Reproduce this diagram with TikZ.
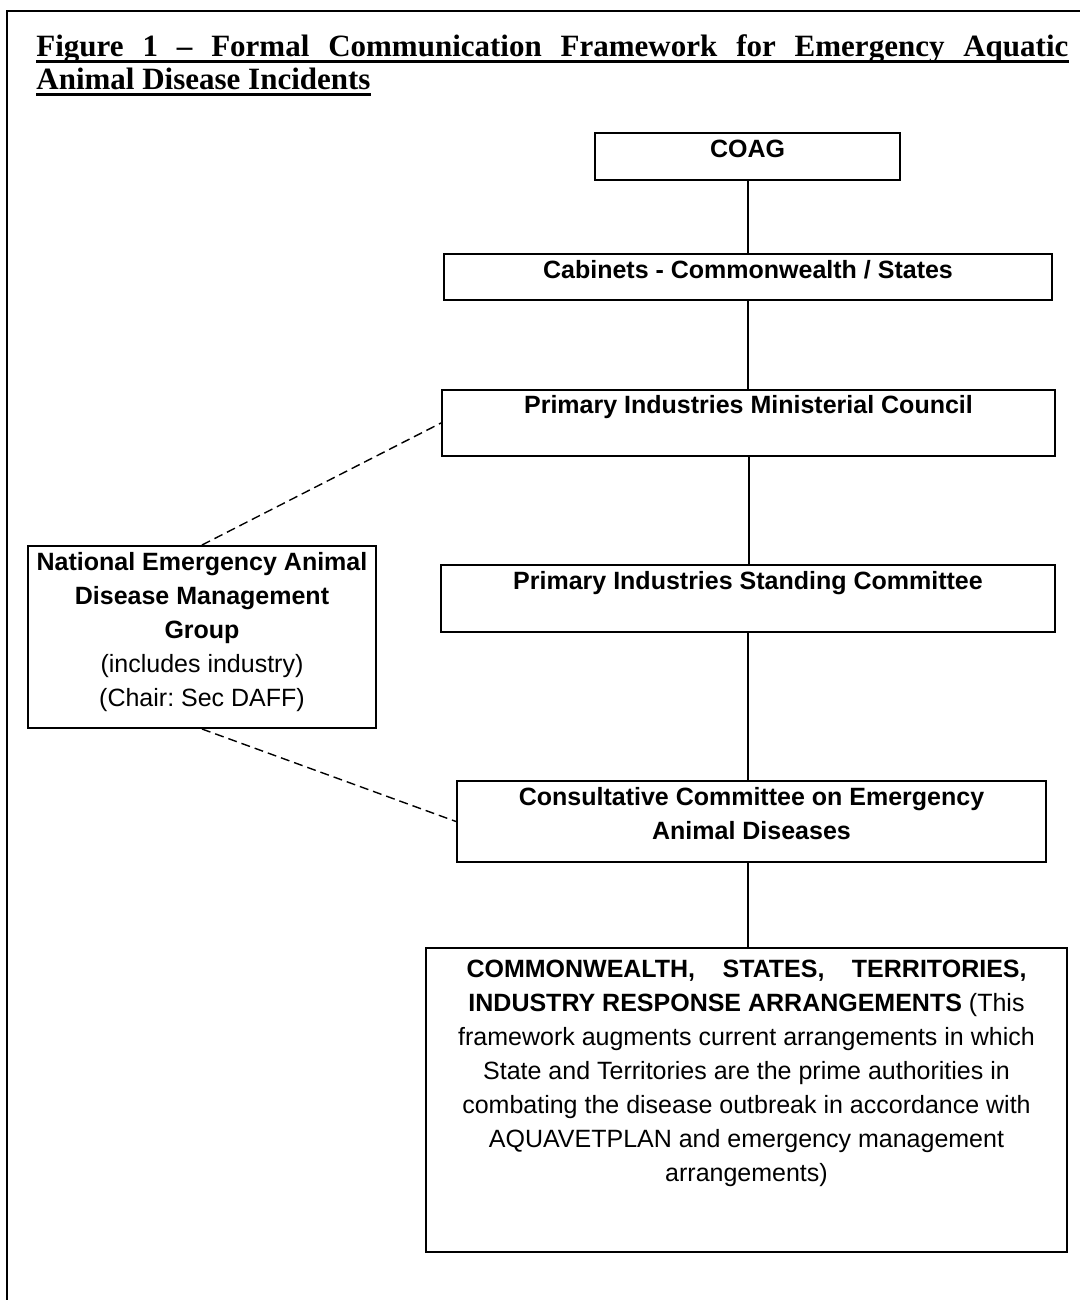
\documentclass[tikz,border=0pt]{standalone}
\usepackage{fontspec}
\setmainfont{Liberation Sans}
\newfontfamily\ttlfont{Liberation Serif}
\frenchspacing
\newcommand{\bcont}[4]{\parbox[c][#2][t]{#1}{\centering\rule{0pt}{#3}#4\par}}
\begin{document}
\begin{tikzpicture}[x=0.5pt,y=-0.5pt,
  orgbox/.style={draw, line width=1pt, inner sep=0pt, font=\fontsize{12.5pt}{17pt}\selectfont},
  ttl/.style={anchor=base west, inner sep=0pt, font=\ttlfont\bfseries\fontsize{15.5pt}{17pt}\selectfont},
  link/.style={line width=1pt},
  dashlink/.style={line width=0.7pt, dash pattern=on 4.5pt off 2.5pt},
  frame/.style={line width=1pt}]
\useasboundingbox (0,0) rectangle (1080,1300);
\fill[white] (0,0) rectangle (1080,1300);
\draw[frame] (1080,11) -- (7,11) -- (7,1300);

% title
\node[ttl] (t1) at (36,57) {\makebox[516pt][s]{Figure 1 – Formal Communication Framework for Emergency Aquatic}};
\node[ttl] (t2) at (36,90) {Animal Disease Incidents};
\draw[line width=1.3pt] ([yshift=-2.2pt]t1.base west) -- ([yshift=-2.2pt]t1.base east);
\draw[line width=1.3pt] ([yshift=-2.2pt]t2.base west) -- ([yshift=-2.2pt]t2.base east);

% boxes
\node[orgbox] (coag) at (747.5,156.5) {\bcont{152.5pt}{23.5pt}{12.5pt}{\bfseries COAG}};
\node[orgbox] (cab) at (748,277) {\bcont{304pt}{23pt}{12.5pt}{\bfseries Cabinets - Commonwealth / States}};
\node[orgbox] (pimc) at (748.5,423) {\bcont{306.5pt}{33pt}{11.5pt}{\bfseries Primary Industries Ministerial Council}};
\node[orgbox] (pisc) at (748,598.5) {\bcont{307pt}{33.5pt}{12pt}{\bfseries Primary Industries Standing Committee}};
\node[orgbox] (ccead) at (751.5,821.5) {\bcont{294.5pt}{40.5pt}{12pt}{\bfseries Consultative Committee on Emergency\\Animal Diseases}};
\node[orgbox] (neadmg) at (202,637) {\bcont{174pt}{91pt}{12pt}{\textbf{National Emergency Animal}\\\textbf{Disease Management}\\\textbf{Group}\\(includes industry)\\(Chair: Sec DAFF)}};
\node[orgbox] (resp) at (746.5,1100) {\bcont{320.5pt}{152pt}{14.5pt}{\makebox[280pt][s]{\bfseries COMMONWEALTH, STATES, TERRITORIES,}\\
\textbf{INDUSTRY RESPONSE ARRANGEMENTS} (This\\
framework augments current arrangements in which\\
State and Territories are the prime authorities in\\
combating the disease outbreak in accordance with\\
AQUAVETPLAN and emergency management\\
arrangements)}};

% connectors
\draw[link] (coag.south) -- (coag.south |- cab.north);
\draw[link] (cab.south) -- (cab.south |- pimc.north);
\draw[link] (pimc.south) -- (pimc.south |- pisc.north);
\draw[link] (pisc.south) -- (pisc.south |- ccead.north);
\draw[link] (pisc.south |- ccead.south) -- (pisc.south |- resp.north);
\draw[dashlink] (neadmg.north) -- (pimc.west);
\draw[dashlink] (neadmg.south) -- (ccead.west);
\end{tikzpicture}
\end{document}
